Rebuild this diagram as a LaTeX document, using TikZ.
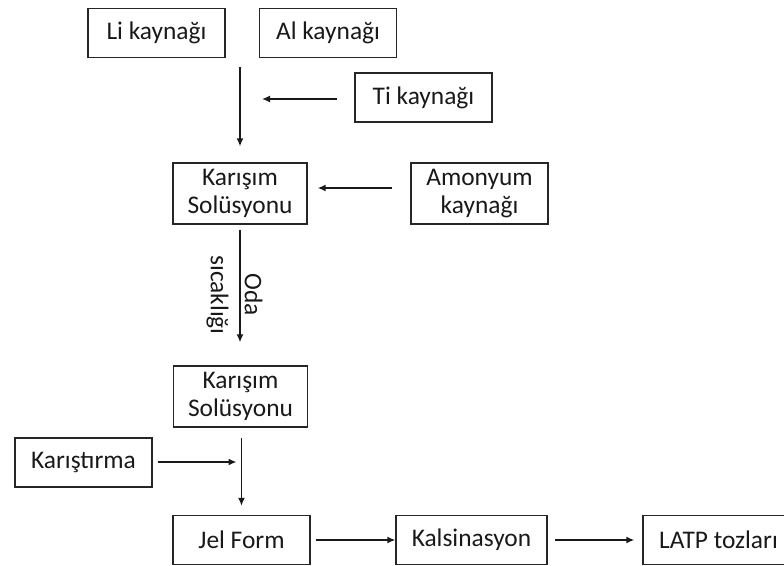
\documentclass[tikz,border=0pt]{standalone}
\usepackage{fontspec}
\setmainfont{Carlito}
\usetikzlibrary{arrows.meta}

\tikzset{
    box/.style={draw=black!85, line width=0.65pt, inner sep=0pt,
        minimum width=68.5pt, minimum height=24.5pt, align=center,
        font=\fontsize{12.7}{14}\selectfont, text=black!90},
    tallbox/.style={box, minimum height=30.5pt},
    flow/.style={line width=0.75pt, black!90, -{Latex[length=4pt,width=3.5pt]}}
}

\begin{document}
\begin{tikzpicture}[x=0.5pt, y=-0.5pt]

    \useasboundingbox (0,0) rectangle (784,566);

    % Sources
    \node[box] (li) at (156.5,33) {Li kaynağı};
    \node[box] (al) at (328,33) {Al kaynağı};
    \node[box] (ti) at (423.5,97.5) {Ti kaynağı};
    \node[tallbox] (amon) at (479.5,193.5) {Amonyum\\kaynağı};

    % Mixing steps
    \node[tallbox, minimum width=67pt] (mixa) at (240,193.5) {Karışım\\Solüsyonu};
    \node[tallbox, minimum width=67pt] (mixb) at (240.5,396.5) {Karışım\\Solüsyonu};
    \node[box] (stir) at (83.5,462.5) {Karıştırma};

    % Bottom row
    \node[box] (gel) at (241.5,540) {Jel Form};
    \node[box, minimum width=75.5pt] (calc) at (471.5,540) {Kalsinasyon};
    \node[box, minimum width=75.5pt] (latp) at (718.5,540) {LATP tozları};

    % Feed line from the sources
    \coordinate (feed) at (240,67);
    \draw[flow, shorten >=8pt] (feed) -- (mixa.north);
    \draw[flow, shorten <=8.5pt, shorten >=11pt] (ti.west |- 0,99) -- (feed |- 0,99);
    \draw[flow, shorten <=9pt, shorten >=5pt] (amon.west |- 0,188) -- (mixa.east |- 0,188);

    % Room temperature step
    \draw[flow, shorten <=2.5pt, shorten >=11.5pt] (mixa.south) -- (mixa.south |- mixb.north);
    \node[rotate=-90, align=center, inner sep=0pt,
        font=\fontsize{12.7}{17}\selectfont, text=black!90] (oda) at (234.5,295) {Oda\\sıcaklığı};

    % Gel, calcination, powder
    \draw[flow, shorten <=5pt, shorten >=4.5pt] (mixb.south -| gel) -- (gel.north);
    \draw[flow, shorten <=2.5pt, shorten >=2.5pt] (stir.east |- 0,462) -- (gel |- 0,462);
    \draw[flow, shorten <=2.5pt] (gel.east) -- (calc.west);
    \draw[flow, shorten <=3.5pt, shorten >=4pt] (calc.east) -- (latp.west);

\end{tikzpicture}
\end{document}
